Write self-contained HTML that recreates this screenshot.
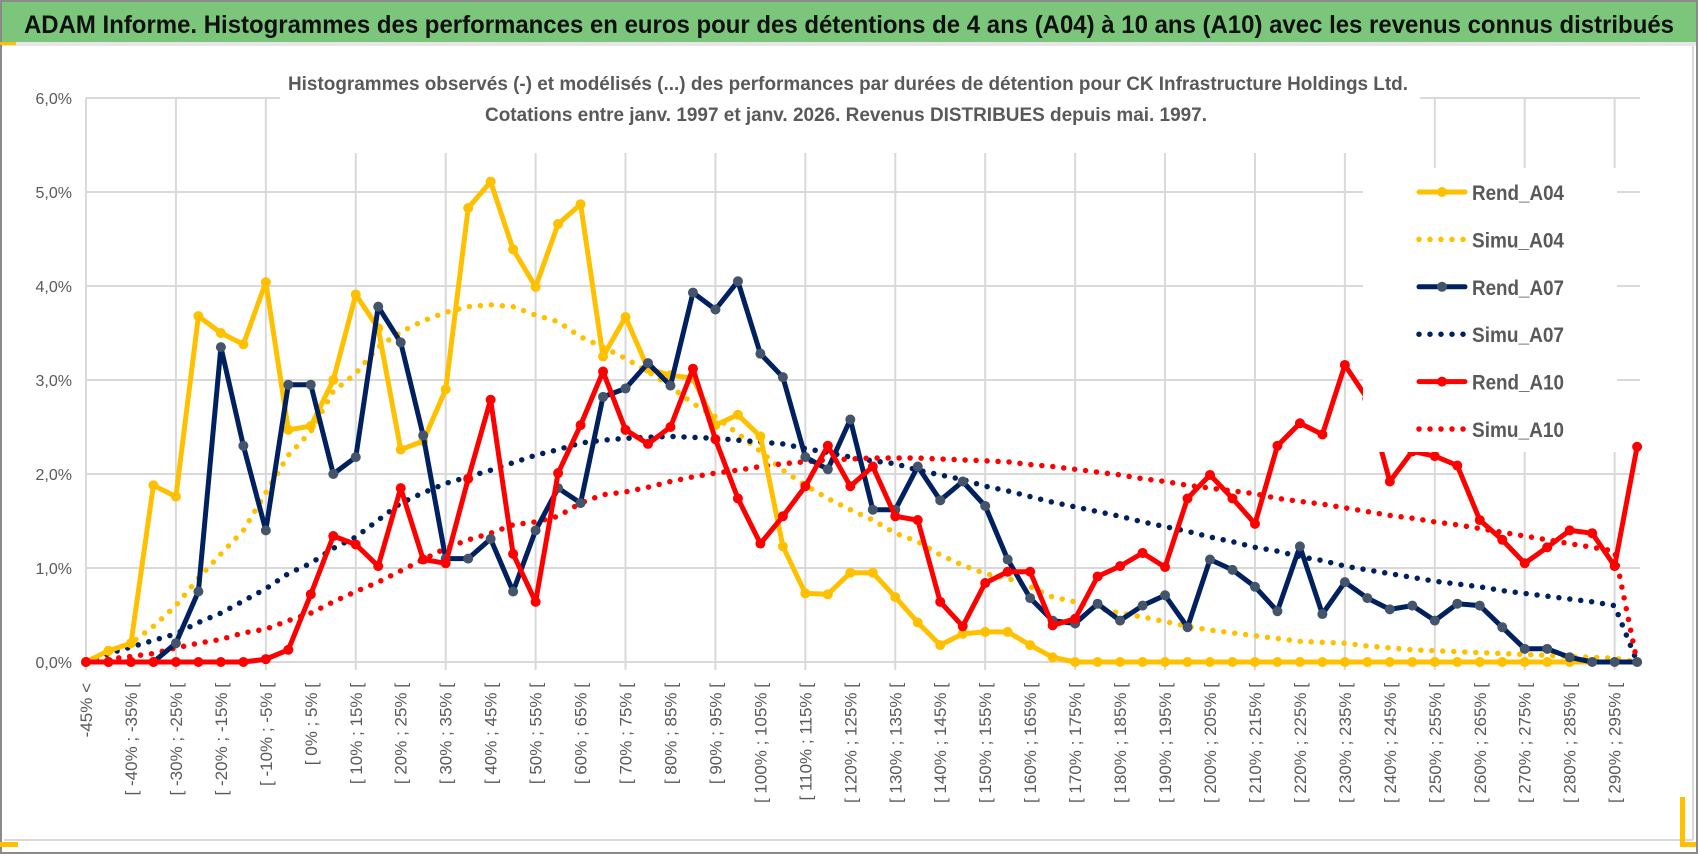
<!DOCTYPE html>
<html><head><meta charset="utf-8"><style>
html,body{margin:0;padding:0;background:#fff;}
svg{display:block;font-family:"Liberation Sans",sans-serif;}
</style></head><body>
<svg id="chart" width="1698" height="854" viewBox="0 0 1698 854" xmlns="http://www.w3.org/2000/svg">
<rect x="0" y="0" width="1698" height="854" fill="#fff"/>
<rect x="1" y="1" width="1696" height="852" fill="none" stroke="#8a8a8a" stroke-width="2"/>
<rect x="2" y="2" width="1694" height="40" fill="#7cc67c"/>
<rect x="2" y="42" width="1694" height="4" fill="#e6e6e6"/>
<rect x="0" y="42" width="16" height="3" fill="#ffc000"/>
<text x="24" y="33" font-size="25" font-weight="bold" fill="#111" textLength="1650" lengthAdjust="spacingAndGlyphs">ADAM Informe. Histogrammes des performances en euros pour des détentions de 4 ans (A04) à 10 ans (A10) avec les revenus connus distribués</text>
<line x1="4" y1="840" x2="1693" y2="840" stroke="#d9d9d9" stroke-width="2"/>
<line x1="1693" y1="46" x2="1693" y2="840" stroke="#d9d9d9" stroke-width="2"/>
<rect x="0" y="842" width="18" height="5" fill="#ffc000"/>
<rect x="1680" y="797" width="5" height="50" fill="#ffc000"/>
<rect x="1680" y="842" width="16" height="5" fill="#ffc000"/>
<g id="grid"></g>
<rect x="280" y="60" width="1140" height="93" fill="#fff"/>
<text x="288" y="90" font-size="19" font-weight="bold" fill="#595959" textLength="1120" lengthAdjust="spacingAndGlyphs">Histogrammes observés (-) et modélisés (...) des performances par durées de détention pour CK Infrastructure Holdings Ltd.</text>
<text x="485" y="121" font-size="19" font-weight="bold" fill="#595959" textLength="722" lengthAdjust="spacingAndGlyphs">Cotations entre janv. 1997 et janv. 2026. Revenus DISTRIBUES depuis mai. 1997.</text>
<g id="axes"></g>
<g id="series"></g>
<g id="legend"></g>
</svg>
<script>
const categories = (function(){ const c=["-45% <"]; for(let L=-45; L<=295; L+=5){ c.push("[ "+L+"% ; "+(L+5)+"% ["); } return c; })();
const yTicks = [0,1,2,3,4,5,6];
const yTickLabels = ["0,0%","1,0%","2,0%","3,0%","4,0%","5,0%","6,0%"];
const rendA04 = [0,0.12,0.2,1.88,1.76,3.68,3.5,3.38,4.04,2.47,2.51,3.0,3.91,3.55,2.26,2.35,2.9,4.83,5.11,4.39,3.99,4.66,4.87,3.25,3.67,3.12,3.05,3.02,2.52,2.63,2.4,1.23,0.73,0.72,0.95,0.95,0.69,0.42,0.18,0.3,0.32,0.32,0.18,0.05,0,0,0,0,0,0,0,0,0,0,0,0,0,0,0,0,0,0,0,0,0,0,0,0,0,0];
const simuA04 = [0,0.08,0.2,0.38,0.6,0.89,1.15,1.4,1.8,2.2,2.45,2.88,3.07,3.35,3.51,3.63,3.72,3.78,3.8,3.78,3.69,3.62,3.46,3.35,3.23,3.09,2.93,2.75,2.61,2.43,2.24,2.04,1.88,1.74,1.62,1.51,1.37,1.28,1.14,1.03,0.94,0.89,0.8,0.69,0.64,0.57,0.52,0.48,0.43,0.38,0.34,0.31,0.28,0.25,0.22,0.21,0.2,0.17,0.15,0.13,0.12,0.11,0.1,0.09,0.08,0.07,0.06,0.05,0.04,0];
const rendA07 = [0,0,0,0,0.2,0.75,3.35,2.3,1.4,2.95,2.95,2.0,2.18,3.78,3.4,2.41,1.1,1.1,1.31,0.75,1.4,1.85,1.69,2.82,2.91,3.18,2.94,3.93,3.75,4.05,3.28,3.03,2.18,2.05,2.58,1.62,1.62,2.08,1.72,1.92,1.66,1.09,0.68,0.44,0.41,0.62,0.44,0.6,0.71,0.37,1.09,0.98,0.8,0.54,1.23,0.51,0.85,0.68,0.56,0.6,0.44,0.62,0.6,0.37,0.14,0.14,0.05,0,0,0];
const simuA07 = [0,0.09,0.16,0.23,0.3,0.42,0.52,0.65,0.78,0.94,1.05,1.21,1.33,1.51,1.69,1.8,1.9,1.97,2.04,2.12,2.2,2.26,2.33,2.36,2.38,2.39,2.4,2.39,2.38,2.36,2.34,2.32,2.27,2.23,2.18,2.14,2.11,2.04,1.99,1.94,1.87,1.82,1.76,1.7,1.65,1.6,1.55,1.49,1.44,1.39,1.33,1.28,1.22,1.18,1.12,1.08,1.02,0.98,0.94,0.9,0.86,0.83,0.8,0.76,0.73,0.7,0.67,0.64,0.6,0];
const rendA10 = [0,0,0,0,0,0,0,0,0.03,0.13,0.72,1.34,1.25,1.02,1.85,1.09,1.05,1.95,2.79,1.15,0.64,2.01,2.52,3.09,2.47,2.32,2.5,3.12,2.37,1.74,1.26,1.55,1.87,2.3,1.87,2.08,1.55,1.51,0.64,0.38,0.84,0.96,0.96,0.39,0.46,0.91,1.02,1.16,1.01,1.74,1.99,1.74,1.47,2.3,2.54,2.42,3.16,2.8,1.92,2.24,2.19,2.09,1.51,1.3,1.05,1.22,1.4,1.37,1.02,2.29];
const simuA10 = [0,0.03,0.06,0.09,0.15,0.2,0.24,0.31,0.35,0.44,0.52,0.64,0.75,0.85,0.97,1.09,1.21,1.3,1.37,1.46,1.49,1.55,1.69,1.78,1.81,1.86,1.92,1.97,2.01,2.04,2.08,2.11,2.13,2.15,2.16,2.17,2.17,2.17,2.16,2.15,2.14,2.13,2.1,2.08,2.05,2.02,1.99,1.95,1.92,1.88,1.85,1.82,1.79,1.74,1.71,1.68,1.64,1.6,1.56,1.53,1.49,1.46,1.42,1.38,1.34,1.3,1.26,1.22,1.18,0];
const seriesNames = ["Rend_A04","Simu_A04","Rend_A07","Simu_A07","Rend_A10","Simu_A10"];

const NS="http://www.w3.org/2000/svg";
const X0=86, DX=22.48, Y0=662, DY=94;
function xScale(i){ return X0 + DX*i; }
function yScale(v){ return Y0 - DY*v; }
function mk(tag, attrs, parent){ const e=document.createElementNS(NS,tag); for(const k in attrs) e.setAttribute(k, attrs[k]); parent.appendChild(e); return e; }

const grid=document.getElementById('grid');
yTicks.forEach(function(t){
  const l=mk('line',{x1:X0,x2:xScale(categories.length-1)+3,y1:yScale(t),y2:yScale(t),stroke:'#d9d9d9','stroke-width':2},grid);
  
  
});
for(let i=0;i<categories.length;i+=4){
  const l=mk('line',{x1:xScale(i),x2:xScale(i),y1:yScale(6),y2:Y0+8,stroke:'#d9d9d9','stroke-width':2},grid);
  
  
}
const axes=document.getElementById('axes');
yTicks.forEach(function(t,k){
  const tx=mk('text',{x:72,y:yScale(t)+6,'text-anchor':'end','font-size':16,fill:'#595959'},axes);
  tx.textContent=yTickLabels[k];
  
  
});
for(let i=0;i<categories.length;i+=2){
  const x=xScale(i)+6, y=683;
  const tx=mk('text',{x:x,y:y,transform:'rotate(-90 '+x+' '+y+')','text-anchor':'end','font-size':17,fill:'#595959'},axes);
  tx.textContent=categories[i];
  
  
}
const sg=document.getElementById('series');
function pts(arr){ return arr.map(function(v,i){return xScale(i).toFixed(1)+','+yScale(v).toFixed(1);}).join(' '); }
function dotted(arr,color,name){
  const p=mk('polyline',{points:pts(arr),fill:'none',stroke:color,'stroke-width':5.5,'stroke-linecap':'round','stroke-dasharray':'0 11'},sg);
  
  
}
function solid(arr,color,mcolor,name){
  const g=mk('g',{},sg);
  
  
  mk('polyline',{points:pts(arr),fill:'none',stroke:color,'stroke-width':5,'stroke-linejoin':'round'},g);
  arr.forEach(function(v,i){
    const c=mk('circle',{cx:xScale(i),cy:yScale(v),r:5,fill:mcolor},g);
    
    
  });
}
dotted(simuA04,'#ffc000','simu-a04-line');
dotted(simuA07,'#002060','simu-a07-line');
dotted(simuA10,'#ff0000','simu-a10-line');
solid(rendA04,'#ffc000','#ffc000','rend-a04-line');
solid(rendA07,'#002060','#44546a','rend-a07-line');
solid(rendA10,'#ff0000','#ff0000','rend-a10-line');

const lg=document.getElementById('legend');
const box=mk('rect',{x:1363,y:168,width:254,height:284,fill:'#fff'},lg);


const legColors=['#ffc000','#ffc000','#002060','#002060','#ff0000','#ff0000'];
const legMark=['#ffc000',null,'#44546a',null,'#ff0000',null];
seriesNames.forEach(function(n,k){
  const y=192+47.4*k;
  const g=mk('g',{},lg);
  
  
  if(legMark[k]){
    mk('line',{x1:1419,x2:1465,y1:y,y2:y,stroke:legColors[k],'stroke-width':5,'stroke-linecap':'round'},g);
    mk('circle',{cx:1442,cy:y,r:5,fill:legMark[k]},g);
  } else {
    mk('line',{x1:1419,x2:1466,y1:y,y2:y,stroke:legColors[k],'stroke-width':5.5,'stroke-linecap':'round','stroke-dasharray':'0 11'},g);
  }
  const t=mk('text',{x:1472,y:y+8,'font-size':21,'font-weight':'bold',fill:'#595959',textLength:92,lengthAdjust:'spacingAndGlyphs'},g);
  t.textContent=n;
});
</script>
</body></html>
